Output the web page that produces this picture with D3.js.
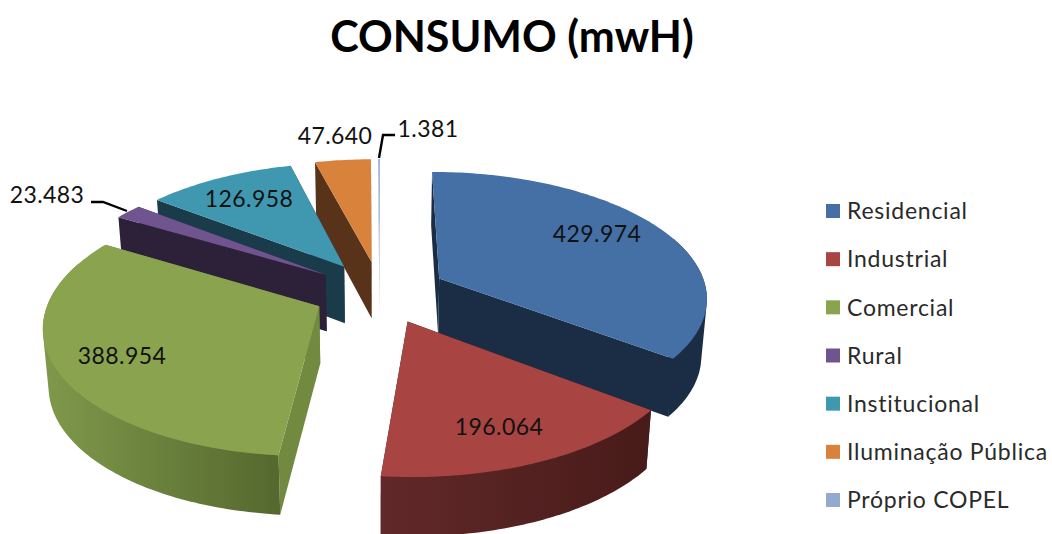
<!DOCTYPE html>
<html>
<head>
  <meta charset="utf-8">
  <script src="https://d3js.org/d3.v7.min.js"></script>
  <style>
    html, body { margin: 0; padding: 0; background: #fff; overflow: hidden; }
    svg { display: block; font-family: Lato, sans-serif; }
    .title { font-size: 43px; font-weight: 700; fill: #000; text-anchor: middle; }
    .value { font-size: 23px; fill: #111; text-anchor: middle; letter-spacing: 0.4px; }
    .legend-text { font-size: 23px; fill: #2a2a2a; letter-spacing: 0.75px; }
  </style>
</head>
<body>
  <svg width="1052" height="534"></svg>
  <script>
    // Consumption per class
    var categories = ["Residencial", "Industrial", "Comercial", "Rural", "Institucional", "Iluminação Pública", "Próprio COPEL"];
    var values = [429974, 196064, 388954, 23483, 126958, 47640, 1381];
    var valueLabels = ["429.974", "196.064", "388.954", "23.483", "126.958", "47.640", "1.381"];

    var topColors = ["#4470a5", "#a84442", "#8aa34f", "#6f5490", "#4098b0", "#d9823c", "#93a9cf"];
    var sideColors = ["#1b2d45", "#471b19", "#728a40", "#2c2139", "#1a3c4a", "#58331a", "#c9ccd6"];
    var rimLeft = ["#1b2d45", "#62282a", "#7f994b", "#2c2139", "#1a3c4a", "#58331a", "#c9ccd6"];
    var rimRight = ["#1b2d45", "#471b19", "#55682e", "#2c2139", "#1a3c4a", "#58331a", "#c9ccd6"];

    // hand placed value labels, as on the original sheet
    var labelAt = [[597, 234], [499, 427], [122, 356], [47, 195], [249, 199], [335, 136], [428, 129]];
    // back to front
    var drawOrder = [6, 5, 4, 3, 0, 2, 1];

    var svg = d3.select("svg");
    var defs = svg.append("defs");

    // perspective of the tilted disc
    var cx = 380, cy = 292, radiusX = 268, radiusY = 124.8, persp = 0.139, explode = 0.25;

    function upperPt(p) {
      var s = 1 / (1 - persp * p[1]);
      return [cx + radiusX * p[0] * s, cy + radiusY * p[1] * s];
    }
    // same ground point on the underside of the disc
    function lowerPt(p) {
      var t = upperPt(p);
      return [cx + (t[0] - cx) * 0.983, cy + (t[1] - cy) * 0.98 + 57 + 5 * p[1]];
    }

    var slices = d3.pie().sort(null).value(function(d) { return d; })(values);
    var line = d3.line();
    var deg = Math.PI / 180;

    function closed(pts) { return line(pts) + "Z"; }

    function arcPoints(a0, a1, ox, oy) {
      var n = Math.max(2, Math.ceil((a1 - a0) / deg));
      return d3.range(n + 1).map(function(i) {
        var a = a0 + (a1 - a0) * i / n;
        return [ox + Math.sin(a), oy - Math.cos(a)];
      });
    }

    var pieGroup = svg.append("g");

    drawOrder.forEach(function(i) {
      var d = slices[i];
      var mid = (d.startAngle + d.endAngle) / 2;
      var ox = explode * Math.sin(mid), oy = -explode * Math.cos(mid);
      var rim = arcPoints(d.startAngle, d.endAngle, ox, oy);
      var apex = [ox, oy];
      var first = rim[0], last = rim[rim.length - 1];
      var g = pieGroup.append("g");

      // cut faces
      [first, last].forEach(function(p) {
        g.append("path")
          .attr("d", closed([upperPt(p), upperPt(apex), lowerPt(apex), lowerPt(p)]))
          .attr("fill", sideColors[i]);
      });

      // outer wall: hull of both rims, the top face covers its inner side
      var a0 = Math.max(d.startAngle, 70 * deg), a1 = Math.min(d.endAngle, 290 * deg);
      if (a1 > a0) {
        var front = arcPoints(a0, a1, ox, oy);
        var wall = d3.polygonHull(front.map(upperPt).concat(front.map(lowerPt)));
        var xs = d3.extent(wall, function(p) { return p[0]; });
        var id = "rim" + i;
        var grad = defs.append("linearGradient").attr("id", id)
          .attr("gradientUnits", "userSpaceOnUse")
          .attr("x1", xs[0]).attr("x2", xs[1]).attr("y1", 0).attr("y2", 0);
        grad.append("stop").attr("offset", 0).attr("stop-color", rimLeft[i]);
        grad.append("stop").attr("offset", 1).attr("stop-color", rimRight[i]);
        g.append("path")
          .attr("d", closed(wall))
          .attr("fill", "url(#" + id + ")");
      }

      g.append("path")
        .attr("d", closed([upperPt(apex)].concat(rim.map(upperPt))))
        .attr("fill", topColors[i]);
    });

    // leader lines of the two small slices
    var leaders = [[[91, 202], [103, 202], [127, 211]], [[379, 158], [383, 135], [395, 135]]];
    svg.selectAll(".leader").data(leaders).enter().append("path")
      .attr("class", "leader")
      .attr("d", line)
      .attr("fill", "none")
      .attr("stroke", "#000")
      .attr("stroke-width", 2.4);

    svg.selectAll(".value").data(valueLabels).enter().append("text")
      .attr("class", "value")
      .attr("x", function(d, i) { return labelAt[i][0]; })
      .attr("y", function(d, i) { return labelAt[i][1]; })
      .attr("dy", "0.36em")
      .text(function(d) { return d; });

    svg.append("text").attr("class", "title").attr("x", 512).attr("y", 52).text("CONSUMO (mwH)");

    // legend
    var legendY = d3.scalePoint().domain(categories).range([211, 500]);
    var item = svg.selectAll(".legend").data(categories).enter().append("g")
      .attr("class", "legend")
      .attr("transform", function(d) { return "translate(826," + legendY(d) + ")"; });
    item.append("rect")
      .attr("y", -7).attr("width", 14).attr("height", 14)
      .attr("fill", function(d, i) { return topColors[i]; });
    item.append("text")
      .attr("class", "legend-text")
      .attr("x", 21).attr("dy", "0.36em")
      .text(function(d) { return d; });
  </script>
</body>
</html>
